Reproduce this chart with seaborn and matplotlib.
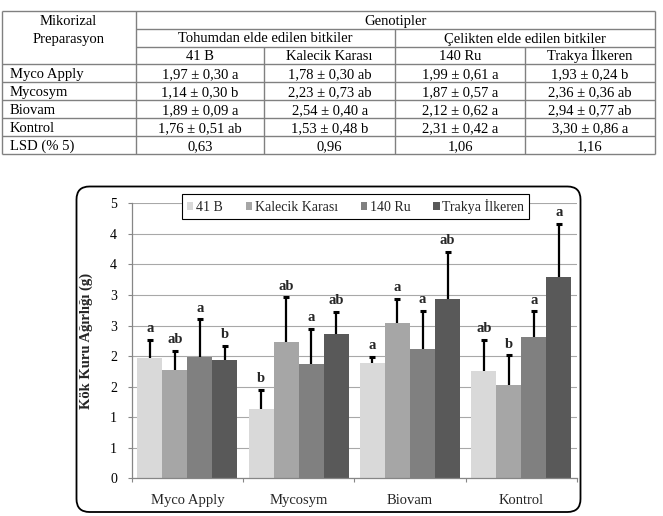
import math
import numpy as np
import pandas as pd
import matplotlib
matplotlib.use("Agg")
import matplotlib.pyplot as plt
import seaborn as sns
from matplotlib.patches import FancyBboxPatch, Rectangle
from matplotlib.ticker import FixedLocator, FuncFormatter

# ---------------- data ----------------
treatments = ["Myco Apply", "Mycosym", "Biovam", "Kontrol"]
genotypes = ["41 B", "Kalecik Karası", "140 Ru", "Trakya İlkeren"]
groups = ["Tohumdan elde edilen bitkiler", "Çelikten elde edilen bitkiler"]

mean_41b = [1.97, 1.14, 1.89, 1.76]
mean_kalecik = [1.78, 2.23, 2.54, 1.53]
mean_140ru = [1.99, 1.87, 2.12, 2.31]
mean_trakya = [1.93, 2.36, 2.94, 3.30]

sd_41b = [0.30, 0.30, 0.09, 0.51]
sd_kalecik = [0.30, 0.73, 0.40, 0.48]
sd_140ru = [0.61, 0.57, 0.62, 0.42]
sd_trakya = [0.24, 0.36, 0.77, 0.86]

let_41b = ["a", "b", "a", "ab"]
let_kalecik = ["ab", "ab", "a", "b"]
let_140ru = ["a", "a", "a", "a"]
let_trakya = ["b", "ab", "ab", "a"]

lsd_values = [0.63, 0.96, 1.06, 1.16]
yticks = [0, 0.5, 1, 1.5, 2, 2.5, 3, 3.5, 4, 4.5]

colors = ["#d9d9d9", "#a6a6a6", "#808080", "#595959"]

means = [mean_41b, mean_kalecik, mean_140ru, mean_trakya]
sds = [sd_41b, sd_kalecik, sd_140ru, sd_trakya]
lets = [let_41b, let_kalecik, let_140ru, let_trakya]

df = pd.DataFrame({
    "Preparasyon": treatments * len(genotypes),
    "Genotip": [g for g in genotypes for _ in treatments],
    "Agirlik": sum(means, []),
})

# ---------------- style ----------------
sns.set_style("white")
plt.rcParams["font.family"] = ["Liberation Serif", "DejaVu Serif"]
plt.rcParams["font.size"] = 10

W, H = 663, 516
fig = plt.figure(figsize=(W / 100, H / 100), dpi=100)

# overlay axes in pixel coordinates for table + rounded frame
ov = fig.add_axes([0, 0, 1, 1], zorder=0)
ov.set_xlim(0, W)
ov.set_ylim(H, 0)
ov.axis("off")

# ---------------- table ----------------
lc = "#808080"
lw = 1.0
xs = [1.7, 135.5, 264, 395.3, 525, 655]
ys = [10.7 + 17.9 * i for i in range(9)]

def hline(y, x0, x1):
    ov.plot([x0, x1], [y, y], color=lc, lw=lw, solid_capstyle="butt")

def vline(x, y0, y1):
    ov.plot([x, x], [y0, y1], color=lc, lw=lw, solid_capstyle="butt")

hline(ys[0], xs[0], xs[5])
hline(ys[1], xs[1], xs[5])
hline(ys[2], xs[1], xs[5])
for i in range(3, 9):
    hline(ys[i], xs[0], xs[5])
vline(xs[0], ys[0], ys[8])
vline(xs[5], ys[0], ys[8])
vline(xs[1], ys[0], ys[8])
vline(xs[3], ys[1], ys[8])
vline(xs[2], ys[2], ys[8])
vline(xs[4], ys[2], ys[8])

TFS = 10.5

def ctext(x, row, s, ha="center"):
    ov.text(x, ys[row + 1] - 4.0, s, ha=ha, va="baseline", fontsize=TFS, color="black")

ctext((xs[0] + xs[1]) / 2, 0, "Mikorizal")
ctext((xs[0] + xs[1]) / 2, 1, "Preparasyon")
ctext((xs[1] + xs[5]) / 2, 0, "Genotipler")
ctext((xs[1] + xs[3]) / 2, 1, groups[0])
ctext((xs[3] + xs[5]) / 2, 1, groups[1])
for k, g in enumerate(genotypes):
    ctext((xs[k + 1] + xs[k + 2]) / 2, 2, g)

def fmt(v):
    return f"{v:.2f}".replace(".", ",")

for j, t in enumerate(treatments):
    ctext(xs[0] + 8, 3 + j, t, ha="left")
    for k in range(len(genotypes)):
        s = f"{fmt(means[k][j])} ± {fmt(sds[k][j])} {lets[k][j]}"
        ctext((xs[k + 1] + xs[k + 2]) / 2, 3 + j, s)
ctext(xs[0] + 8, 7, "LSD (% 5)", ha="left")
for k, v in enumerate(lsd_values):
    ctext((xs[k + 1] + xs[k + 2]) / 2, 7, fmt(v))

# ---------------- chart frame ----------------
frame = FancyBboxPatch((76.5, 186.5), 504, 325.5,
                       boxstyle="round,pad=0,rounding_size=13",
                       fill=False, edgecolor="black", lw=1.3)
ov.add_patch(frame)

# ---------------- chart ----------------
ax_l, ax_r, ax_t, ax_b = 131.7, 577.0, 203.3, 478.3
ax = fig.add_axes([ax_l / W, 1 - ax_b / H, (ax_r - ax_l) / W, (ax_b - ax_t) / H], zorder=1)
ax.set_facecolor("none")

sns.barplot(data=df, x="Preparasyon", y="Agirlik", hue="Genotip",
            order=treatments, hue_order=genotypes, palette=colors,
            width=0.9, errorbar=None, saturation=1, linewidth=0,
            edgecolor="none", ax=ax, zorder=2)

for k, cont in enumerate(ax.containers):
    for j, bar in enumerate(cont):
        x = bar.get_x() + bar.get_width() / 2
        h = bar.get_height()
        top = h + sds[k][j]
        ax.plot([x, x], [h, top], color="black", lw=1.6, zorder=3, solid_capstyle="butt")
        ax.plot([x], [top], marker="_", ms=5, mew=2.2, color="black", zorder=3)
        ax.annotate(lets[k][j], (x, top), xytext=(0, 3.5), textcoords="offset points",
                    ha="center", va="bottom", fontsize=10.5, fontweight="bold", zorder=4)

ax.set_xlim(-0.5, len(treatments) - 0.5)
ax.set_ylim(0, 4.5)
ax.yaxis.set_major_locator(FixedLocator(yticks))
ax.yaxis.set_major_formatter(FuncFormatter(lambda v, p: str(int(math.floor(v + 0.5)))))
ax.yaxis.grid(True, color="#a8a8a8", lw=0.8)
ax.set_axisbelow(True)

for s in ["top", "right"]:
    ax.spines[s].set_visible(False)
for s in ["left", "bottom"]:
    ax.spines[s].set_color("#868686")
    ax.spines[s].set_linewidth(0.9)

ax.tick_params(axis="y", left=True, direction="out", length=3, width=0.8,
               color="#868686", pad=7.5, labelsize=10, labelcolor="black")
ax.xaxis.set_minor_locator(FixedLocator([i - 0.5 for i in range(len(treatments) + 1)]))
ax.tick_params(axis="x", which="major", bottom=True, length=0, pad=11.5, labelsize=10.5)
ax.tick_params(axis="x", which="minor", bottom=True, length=3, width=0.8, color="#868686")

ax.set_xlabel("")
ax.set_ylabel("Kök Kuru Ağırlığı (g)", fontsize=10.5, fontweight="bold")
ax.yaxis.set_label_coords(-0.086, 0.5)

handles = [Rectangle((0, 0), 1, 1, facecolor=c, edgecolor="none") for c in colors]
ax.legend(handles, genotypes, loc="center", bbox_to_anchor=(0.503, 0.988), ncol=4,
          frameon=True, fancybox=False, edgecolor="black", framealpha=1,
          handlelength=0.45, handleheight=0.45, handletextpad=0.2,
          columnspacing=1.65, fontsize=10, borderpad=0.35, borderaxespad=0)
ax.get_legend().get_frame().set_linewidth(0.8)

fig.savefig("out.png", dpi=100)
